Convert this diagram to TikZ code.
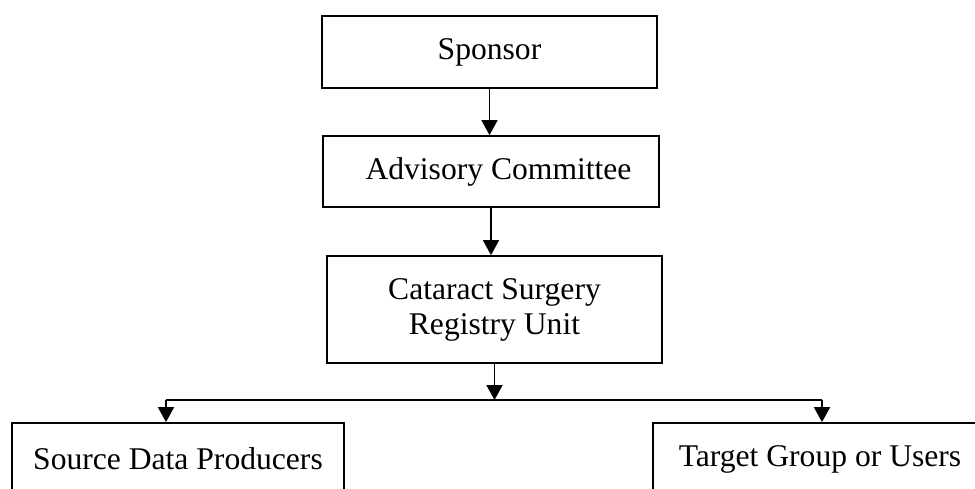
\documentclass[tikz,border=0pt]{standalone}
\usepackage{fontspec}
\setmainfont{Liberation Serif}
\usetikzlibrary{arrows.meta}
\tikzset{
  box/.style={draw, line width=1.8pt, rectangle, inner sep=0pt, align=center,
    font=\fontsize{31.6pt}{35pt}\selectfont},
  arr/.style={line width=1.8pt, -{Triangle[width=16pt,length=15pt]}},
  ln/.style={line width=1.8pt}
}
\begin{document}
\begin{tikzpicture}[x=1pt,y=-1pt]
\useasboundingbox (0,0) rectangle (975,488);
\clip (0,0) rectangle (975,488);
\fill[white] (0,0) rectangle (975,488);
\node[box, minimum width=335pt, minimum height=72pt] (sponsor) at (489.5,52) {Sponsor};
\node[box, minimum width=336pt, minimum height=71pt] (advisory) at (491,171.5) {};
\node[font=\fontsize{31.6pt}{35pt}\selectfont, inner sep=0pt] (advtext) at (498.5,171.5) {Advisory Committee};
\node[box, minimum width=335pt, minimum height=107pt] (cataract) at (494.5,309.5) {Cataract Surgery\\Registry Unit};
\node[box, minimum width=332pt, minimum height=72pt] (source) at (178,459) {Source Data Producers};
\node[box, minimum width=334pt, minimum height=72pt] (target) at (820,459) {Target Group or Users};
\coordinate (j) at (494.5,400);
\coordinate (sl) at (166,400);
\coordinate (sr) at (822,400);
\draw[arr] (sponsor.south) -- (sponsor.south |- advisory.north);
\draw[arr] (advisory.south) -- (advisory.south |- cataract.north);
\draw[arr] (cataract.south) -- (j);
\draw[ln] (sl) -- (sr);
\draw[arr] (sl) -- (sl |- source.north);
\draw[arr] (sr) -- (sr |- target.north);
\end{tikzpicture}
\end{document}
